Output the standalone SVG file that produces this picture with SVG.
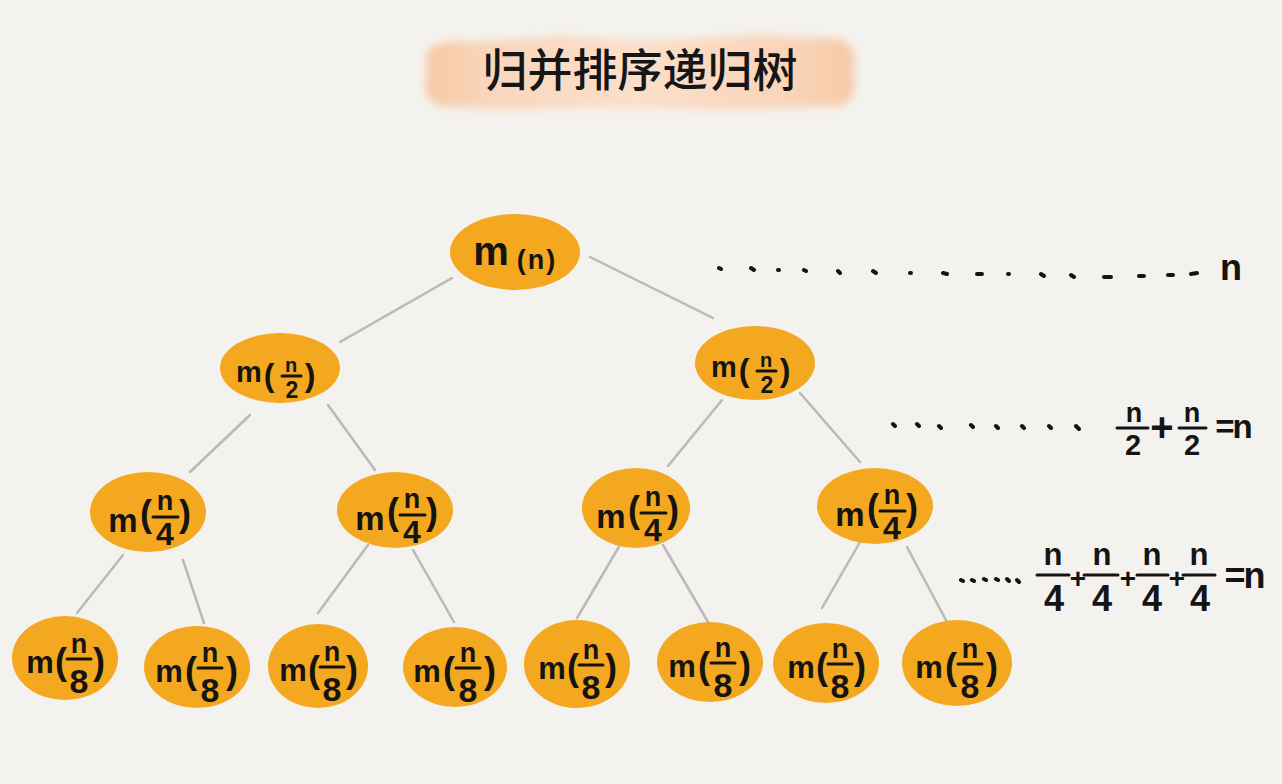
<svg xmlns="http://www.w3.org/2000/svg" width="1282" height="784" viewBox="0 0 1282 784">
<defs>
<style>
.bg{fill:#f4f2ee}
.node{fill:#f3a81f}
.edge{stroke:#b9b9b9;stroke-width:2.5;fill:none;stroke-linecap:round}
.t{font-family:"Liberation Sans",Arial,sans-serif;font-weight:700;fill:#141414;text-anchor:middle}
.bar{stroke:#141414;stroke-width:3;stroke-linecap:round}
.dots{stroke:#141414;stroke-width:4;stroke-linecap:round;fill:none}
.title{font-family:"Noto Sans CJK SC","Noto Sans",sans-serif;font-weight:500;font-size:45px;fill:#161616;text-anchor:middle}
</style>
<linearGradient id="brush" x1="0" y1="0" x2="1" y2="0">
<stop offset="0" stop-color="#f7c8a4"/>
<stop offset="0.15" stop-color="#f9d6bc"/>
<stop offset="0.5" stop-color="#fbdfca"/>
<stop offset="0.85" stop-color="#f9d4b8"/>
<stop offset="1" stop-color="#f7c9a7"/>
</linearGradient>
<filter id="soft" x="-10%" y="-30%" width="120%" height="160%"><feGaussianBlur stdDeviation="4"/></filter>
</defs>
<rect class="bg" x="0" y="0" width="1282" height="784"/>

<g id="title">
<path d="M426 54 Q436 38 470 42 L560 36 L650 40 L760 35 L840 39 Q860 48 853 72 Q860 98 840 106 L720 110 L600 107 L500 110 L440 106 Q420 97 427 76 Z" fill="url(#brush)" filter="url(#soft)"/>
<text class="title" x="640" y="87">归并排序递归树</text>
</g>

<g id="connectors">
<line class="edge" x1="452" y1="278" x2="340" y2="342"/>
<line class="edge" x1="590" y1="257" x2="713" y2="318"/>
<line class="edge" x1="250" y1="415" x2="190" y2="472"/>
<line class="edge" x1="328" y1="405" x2="375" y2="470"/>
<line class="edge" x1="722" y1="400" x2="668" y2="466"/>
<line class="edge" x1="800" y1="393" x2="860" y2="462"/>
<line class="edge" x1="123" y1="555" x2="77" y2="613"/>
<line class="edge" x1="183" y1="560" x2="204" y2="623"/>
<line class="edge" x1="368" y1="545" x2="318" y2="613"/>
<line class="edge" x1="413" y1="550" x2="454" y2="622"/>
<line class="edge" x1="620" y1="545" x2="577" y2="618"/>
<line class="edge" x1="663" y1="545" x2="708" y2="622"/>
<line class="edge" x1="860" y1="542" x2="822" y2="608"/>
<line class="edge" x1="907" y1="547" x2="947" y2="622"/>
</g>

<g id="root" transform="translate(515,252)">
<ellipse class="node" cx="0" cy="0" rx="65" ry="38"/>
<text class="t"><tspan x="-24" y="13" font-size="40">m</tspan><tspan x="22" y="17" font-size="27" letter-spacing="2">(n)</tspan></text>
</g>

<g id="l2a" transform="translate(280,368)">
<ellipse class="node" cx="0" cy="0" rx="60" ry="35"/>
<text class="t"><tspan x="-31" y="14" font-size="29">m</tspan><tspan x="-11" y="18" font-size="32">(</tspan><tspan x="11" y="4" font-size="20">n</tspan><tspan x="12" y="30" font-size="23">2</tspan><tspan x="30" y="18" font-size="32">)</tspan></text>
<line class="bar" x1="2" y1="8" x2="21" y2="8"/>
</g>

<g id="l2b" transform="translate(755,363)">
<ellipse class="node" cx="0" cy="0" rx="60" ry="37"/>
<text class="t"><tspan x="-31" y="14" font-size="29">m</tspan><tspan x="-11" y="18" font-size="32">(</tspan><tspan x="11" y="4" font-size="20">n</tspan><tspan x="12" y="30" font-size="23">2</tspan><tspan x="30" y="18" font-size="32">)</tspan></text>
<line class="bar" x1="2" y1="8" x2="21" y2="8"/>
</g>

<g id="l3a" transform="translate(148,512)">
<ellipse class="node" cx="0" cy="0" rx="58" ry="40"/>
<text class="t"><tspan x="-25" y="20" font-size="33">m</tspan><tspan x="-2" y="14" font-size="36">(</tspan><tspan x="17" y="-2" font-size="27">n</tspan><tspan x="17" y="33" font-size="32">4</tspan><tspan x="37" y="14" font-size="36">)</tspan></text>
<line class="bar" x1="5" y1="5" x2="30" y2="5"/>
</g>

<g id="l3b" transform="translate(395,510)">
<ellipse class="node" cx="0" cy="0" rx="58" ry="38"/>
<text class="t"><tspan x="-25" y="20" font-size="33">m</tspan><tspan x="-2" y="14" font-size="36">(</tspan><tspan x="17" y="-2" font-size="27">n</tspan><tspan x="17" y="33" font-size="32">4</tspan><tspan x="37" y="14" font-size="36">)</tspan></text>
<line class="bar" x1="5" y1="5" x2="30" y2="5"/>
</g>

<g id="l3c" transform="translate(636,508)">
<ellipse class="node" cx="0" cy="0" rx="54" ry="40"/>
<text class="t"><tspan x="-25" y="20" font-size="33">m</tspan><tspan x="-2" y="14" font-size="36">(</tspan><tspan x="17" y="-2" font-size="27">n</tspan><tspan x="17" y="33" font-size="32">4</tspan><tspan x="37" y="14" font-size="36">)</tspan></text>
<line class="bar" x1="5" y1="5" x2="30" y2="5"/>
</g>

<g id="l3d" transform="translate(875,506)">
<ellipse class="node" cx="0" cy="0" rx="58" ry="38"/>
<text class="t"><tspan x="-25" y="20" font-size="33">m</tspan><tspan x="-2" y="14" font-size="36">(</tspan><tspan x="17" y="-2" font-size="27">n</tspan><tspan x="17" y="33" font-size="32">4</tspan><tspan x="37" y="14" font-size="36">)</tspan></text>
<line class="bar" x1="5" y1="5" x2="30" y2="5"/>
</g>

<g id="l4a" transform="translate(65,658)">
<ellipse class="node" cx="0" cy="0" rx="53" ry="42"/>
<text class="t"><tspan x="-25" y="15" font-size="31">m</tspan><tspan x="-4" y="16" font-size="36">(</tspan><tspan x="14" y="-5" font-size="27">n</tspan><tspan x="14" y="35" font-size="34">8</tspan><tspan x="34" y="16" font-size="36">)</tspan></text>
<line class="bar" x1="2" y1="1" x2="26" y2="1"/>
</g>

<g id="l4b" transform="translate(197,667)">
<ellipse class="node" cx="0" cy="0" rx="53" ry="41"/>
<text class="t"><tspan x="-28" y="15" font-size="31">m</tspan><tspan x="-6" y="16" font-size="36">(</tspan><tspan x="13" y="-5" font-size="27">n</tspan><tspan x="13" y="35" font-size="34">8</tspan><tspan x="35" y="16" font-size="36">)</tspan></text>
<line class="bar" x1="1" y1="1" x2="25" y2="1"/>
</g>

<g id="l4c" transform="translate(318,666)">
<ellipse class="node" cx="0" cy="0" rx="50" ry="42"/>
<text class="t"><tspan x="-25" y="15" font-size="31">m</tspan><tspan x="-4" y="16" font-size="36">(</tspan><tspan x="14" y="-5" font-size="27">n</tspan><tspan x="14" y="35" font-size="34">8</tspan><tspan x="34" y="16" font-size="36">)</tspan></text>
<line class="bar" x1="2" y1="1" x2="26" y2="1"/>
</g>

<g id="l4d" transform="translate(455,667)">
<ellipse class="node" cx="0" cy="0" rx="52" ry="40"/>
<text class="t"><tspan x="-28" y="15" font-size="31">m</tspan><tspan x="-6" y="16" font-size="36">(</tspan><tspan x="13" y="-5" font-size="27">n</tspan><tspan x="13" y="35" font-size="34">8</tspan><tspan x="35" y="16" font-size="36">)</tspan></text>
<line class="bar" x1="1" y1="1" x2="25" y2="1"/>
</g>

<g id="l4e" transform="translate(577,664)">
<ellipse class="node" cx="0" cy="0" rx="53" ry="44"/>
<text class="t"><tspan x="-25" y="15" font-size="31">m</tspan><tspan x="-4" y="16" font-size="36">(</tspan><tspan x="14" y="-5" font-size="27">n</tspan><tspan x="14" y="35" font-size="34">8</tspan><tspan x="34" y="16" font-size="36">)</tspan></text>
<line class="bar" x1="2" y1="1" x2="26" y2="1"/>
</g>

<g id="l4f" transform="translate(710,662)">
<ellipse class="node" cx="0" cy="0" rx="53" ry="40"/>
<text class="t"><tspan x="-28" y="15" font-size="31">m</tspan><tspan x="-6" y="16" font-size="36">(</tspan><tspan x="13" y="-5" font-size="27">n</tspan><tspan x="13" y="35" font-size="34">8</tspan><tspan x="35" y="16" font-size="36">)</tspan></text>
<line class="bar" x1="1" y1="1" x2="25" y2="1"/>
</g>

<g id="l4g" transform="translate(826,663)">
<ellipse class="node" cx="0" cy="0" rx="53" ry="40"/>
<text class="t"><tspan x="-25" y="15" font-size="31">m</tspan><tspan x="-4" y="16" font-size="36">(</tspan><tspan x="14" y="-5" font-size="27">n</tspan><tspan x="14" y="35" font-size="34">8</tspan><tspan x="34" y="16" font-size="36">)</tspan></text>
<line class="bar" x1="2" y1="1" x2="26" y2="1"/>
</g>

<g id="l4h" transform="translate(957,663)">
<ellipse class="node" cx="0" cy="0" rx="55" ry="43"/>
<text class="t"><tspan x="-28" y="15" font-size="31">m</tspan><tspan x="-6" y="16" font-size="36">(</tspan><tspan x="13" y="-5" font-size="27">n</tspan><tspan x="13" y="35" font-size="34">8</tspan><tspan x="35" y="16" font-size="36">)</tspan></text>
<line class="bar" x1="1" y1="1" x2="25" y2="1"/>
</g>

<g id="level1-sum">
<path class="dots" d="M719 268 l2 1 M751 268 l3 2 M778 270 l1 0 M804 270 l2 1 M838 271 l2 2 M873 271 l3 2 M910 273 l1 0 M943 273 l4 1 M977 274 l5 0 M1008 274 l1 0 M1041 274 l3 2 M1071 275 l3 2 M1104 277 l7 0 M1139 276 l5 0 M1168 275 l5 0 M1191 274 l6 -1"/>
<text class="t" x="1231" y="280" font-size="36">n</text>
</g>

<g id="level2-sum">
<path class="dots" d="M893 424 l2 2 M917 424 l2 2 M939 426 l2 2 M971 425 l2 2 M996 426 l2 2 M1022 426 l2 2 M1049 426 l2 2 M1076 426 l3 3"/>
<text class="t"><tspan x="1134" y="422" font-size="27">n</tspan><tspan x="1133" y="455" font-size="29">2</tspan><tspan x="1162" y="441" font-size="40">+</tspan><tspan x="1192" y="422" font-size="27">n</tspan><tspan x="1192" y="455" font-size="29">2</tspan><tspan x="1233" y="438" font-size="33" letter-spacing="-2">=n</tspan></text>
<line class="bar" x1="1117" y1="428" x2="1148" y2="428"/>
<line class="bar" x1="1179" y1="428" x2="1206" y2="428"/>
</g>

<g id="level3-sum">
<path class="dots" d="M961 580 l2 1 M972 580 l2 1 M984 579 l2 1 M996 579 l2 1 M1007 579 l2 2 M1017 580 l2 2"/>
<text class="t"><tspan x="1053" y="565" font-size="31">n</tspan><tspan x="1054" y="611" font-size="36">4</tspan><tspan x="1078" y="588" font-size="28">+</tspan><tspan x="1102" y="565" font-size="31">n</tspan><tspan x="1102" y="611" font-size="36">4</tspan><tspan x="1128" y="588" font-size="28">+</tspan><tspan x="1152" y="565" font-size="31">n</tspan><tspan x="1152" y="611" font-size="36">4</tspan><tspan x="1177" y="588" font-size="28">+</tspan><tspan x="1199" y="565" font-size="31">n</tspan><tspan x="1200" y="611" font-size="36">4</tspan><tspan x="1244" y="588" font-size="36" letter-spacing="-2">=n</tspan></text>
<line class="bar" x1="1037" y1="575" x2="1069" y2="575"/>
<line class="bar" x1="1084" y1="575" x2="1118" y2="575"/>
<line class="bar" x1="1137" y1="575" x2="1168" y2="575"/>
<line class="bar" x1="1183" y1="575" x2="1215" y2="575"/>
</g>
</svg>
